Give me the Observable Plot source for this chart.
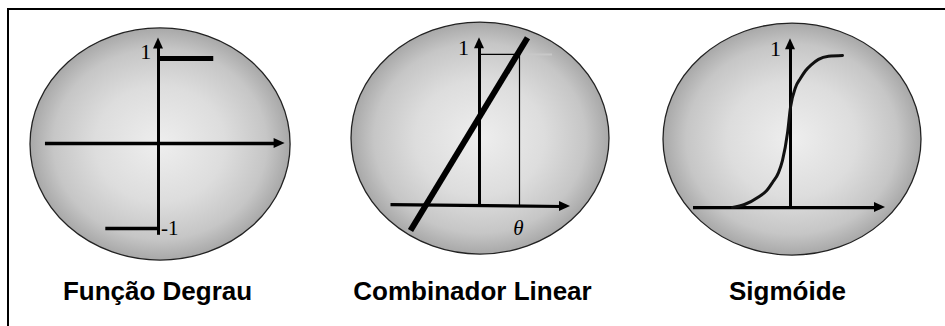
<!DOCTYPE html>
<html><head><meta charset="utf-8">
<script src="https://cdn.jsdelivr.net/npm/d3@7"></script>
<script src="https://cdn.jsdelivr.net/npm/@observablehq/plot@0.6"></script>
<style>
html,body{margin:0;padding:0;background:#fff;}
#wrap{position:relative;width:945px;height:326px;overflow:hidden;background:#fff;}
#frame{position:absolute;left:7px;top:8px;right:-10px;bottom:-10px;border-top:2px solid #000;border-left:2px solid #000;}
.panel{position:absolute;top:0;width:315px;height:326px;}
.panel svg{position:absolute;left:0;top:0;}
.label{position:absolute;left:0;width:315px;top:276px;text-align:center;font:bold 26px "Liberation Sans",Arial,sans-serif;line-height:30px;color:#000;}
</style></head><body><div id="wrap"><div id="frame"></div></div>
<script>
// ---- data ----
const titles = ["Função Degrau", "Combinador Linear", "Sigmóide"];

// Panel 1: step function
const stepLevels = [-1, 1];
const stepFrom = [-0.62, 0];
const stepTo = [0, 0.65];
const stepAxisX = [-1.33, 1.49];
const stepAxisY = [-1.08, 1.24];
const stepTickLabels = ["1", "-1"];

// Panel 2: linear combiner
const linX = [-1.725, 1.2];
const linY = [-0.158, 1.11];
const linTheta = 1;
const linOne = 1;
const linGuideEnd = 1.825;
const linAxisX = [-2.225, 2.275];
const linAxisTilt = [0.012, 0];
const linAxisYTop = 1.11;
const linTickLabels = ["1", "θ"];

// Panel 3: sigmoid
const sigX = [-5.8, -4.6, -3.2, -2.4, -1.8, -1.2, -0.8, -0.3, 0, 0.5, 1.0, 1.5, 2.1, 2.8, 3.8, 5.2];
const sigY = [0.0, 0.02, 0.07, 0.11, 0.165, 0.23, 0.31, 0.49, 0.66, 0.79, 0.85, 0.9, 0.94, 0.975, 0.995, 1.0];
const sigAxisX = [-9.7, 9.5];
const sigAxisYTop = 1.11;
const sigTickLabels = ["1"];

// ---- helpers ----
function sphere(s, id) {
  return (index, scales) => {
    const cx = scales.x(s.cx), cy = scales.y(s.cy);
    const rx = Math.abs(scales.x(s.cx + s.rx) - cx);
    const ry = Math.abs(scales.y(s.cy + s.ry) - cy);
    const g = d3.create("svg:g");
    const grad = g.append("defs").append("radialGradient").attr("id", id)
      .attr("cx", "50%").attr("cy", "50%").attr("r", "50%");
    [[0, "#eeeeee"], [0.5, "#dddddd"], [0.82, "#c6c6c6"], [1, "#a8a8a8"]].forEach(([o, c]) =>
      grad.append("stop").attr("offset", o).attr("stop-color", c));
    g.append("ellipse").attr("cx", cx).attr("cy", cy).attr("rx", rx).attr("ry", ry)
      .attr("fill", `url(#${id})`).attr("stroke", "#222").attr("stroke-width", 1.3);
    return g.node();
  };
}
function arrowHeads(tips) {
  return (index, scales) => {
    const g = d3.create("svg:g");
    for (const t of tips) {
      const px = scales.x(t.x), py = scales.y(t.y);
      const L = 11, W = 5;
      const pts = t.dir === "right"
        ? [[px, py], [px - L, py - W], [px - L, py + W]]
        : [[px, py], [px - W, py + L], [px + W, py + L]];
      g.append("polygon").attr("points", pts.map(p => p.join(",")).join(" ")).attr("fill", "#000");
    }
    return g.node();
  };
}
const wrap = document.getElementById("wrap");
function panel(i, xd, yd, marks) {
  const div = document.createElement("div");
  div.className = "panel";
  div.style.left = (i * 315) + "px";
  const svg = Plot.plot({
    width: 315, height: 270, margin: 0,
    x: {axis: null, domain: xd},
    y: {axis: null, domain: yd},
    style: {background: "transparent", overflow: "visible"},
    marks
  });
  div.append(svg);
  const lab = document.createElement("div");
  lab.className = "label";
  lab.textContent = titles[i];
  div.append(lab);
  wrap.append(div);
}
const serif = "'Liberation Serif', 'Times New Roman', serif";

// ---- panel 1 ----
panel(0, [-1.859, 1.847], [-1.494, 1.682], [
  sphere({cx: 0.024, cy: -0.012, rx: 1.53, ry: 1.365}, "g1"),
  Plot.ruleY([0], {x1: stepAxisX[0], x2: stepAxisX[1] - 0.08, y: 0, strokeWidth: 3.5, stroke: "#000"}),
  Plot.ruleX([0], {x: 0, y1: stepAxisY[0], y2: stepAxisY[1] - 0.08, strokeWidth: 3, stroke: "#000"}),
  Plot.ruleY([stepLevels[0]], {x1: stepFrom[0], x2: stepTo[0], y: d => d, strokeWidth: 3.5, stroke: "#000"}),
  Plot.ruleY([stepLevels[1]], {x1: stepFrom[1], x2: stepTo[1], y: d => d, strokeWidth: 5, stroke: "#000"}),
  arrowHeads([{x: stepAxisX[1], y: 0, dir: "right"}, {x: 0, y: stepAxisY[1], dir: "up"}]),
  Plot.text([stepTickLabels[0]], {x: -0.15, y: 1.08, text: d => d, fontFamily: serif, fontSize: 22, fill: "#000"}),
  Plot.text([stepTickLabels[1]], {x: 0.03, y: -1.0, text: d => d, textAnchor: "start", fontFamily: serif, fontSize: 21, fill: "#000"})
]);

// ---- panel 2 ----
panel(1, [-4.1, 3.775], [-0.421, 1.355], [
  sphere({cx: 0.025, cy: 0.447, rx: 3.225, ry: 0.763}, "g2"),
  Plot.ruleY([linOne], {x1: linTheta, x2: linGuideEnd, y: d => d, strokeWidth: 2, stroke: "#c8c8c8"}),
  Plot.ruleY([linOne], {x1: 0, x2: linTheta, y: d => d, strokeWidth: 1.2, stroke: "#000"}),
  Plot.ruleX([linTheta], {x: d => d, y1: 0, y2: linOne, strokeWidth: 1.2, stroke: "#000"}),
  Plot.link([0], {x1: linAxisX[0], y1: linAxisTilt[0], x2: linAxisX[1] - 0.2, y2: linAxisTilt[1], strokeWidth: 3.2, stroke: "#000"}),
  Plot.ruleX([0], {x: 0, y1: 0, y2: linAxisYTop - 0.05, strokeWidth: 3, stroke: "#000"}),
  Plot.line(linX.map((x, i) => ({x, y: linY[i]})), {x: "x", y: "y", strokeWidth: 6, stroke: "#000", strokeLinecap: "butt"}),
  arrowHeads([{x: linAxisX[1], y: 0, dir: "right"}, {x: 0, y: linAxisYTop, dir: "up"}]),
  Plot.text([linTickLabels[0]], {x: -0.4, y: 1.04, text: d => d, fontFamily: serif, fontSize: 22, fill: "#000"}),
  Plot.text([linTickLabels[1]], {x: 0.975, y: -0.145, text: d => d, fontFamily: serif, fontStyle: "italic", fontSize: 21, fill: "#000"})
]);

// ---- panel 3 ----
panel(2, [-16, 15.5], [-0.414, 1.362], [
  sphere({cx: 0.2, cy: 0.447, rx: 12.9, ry: 0.763}, "g3"),
  Plot.ruleY([0], {x1: sigAxisX[0], x2: sigAxisX[1] - 0.5, y: 0, strokeWidth: 3.2, stroke: "#000"}),
  Plot.ruleX([0], {x: 0, y1: 0, y2: sigAxisYTop - 0.05, strokeWidth: 3, stroke: "#000"}),
  Plot.line(sigX.map((x, i) => ({x, y: sigY[i]})), {x: "x", y: "y", curve: "monotone-x", strokeWidth: 3, stroke: "#111"}),
  arrowHeads([{x: sigAxisX[1], y: 0, dir: "right"}, {x: 0, y: sigAxisYTop, dir: "up"}]),
  Plot.text([sigTickLabels[0]], {x: -1.5, y: 1.04, text: d => d, fontFamily: serif, fontSize: 22, fill: "#000"})
]);
</script></body></html>
